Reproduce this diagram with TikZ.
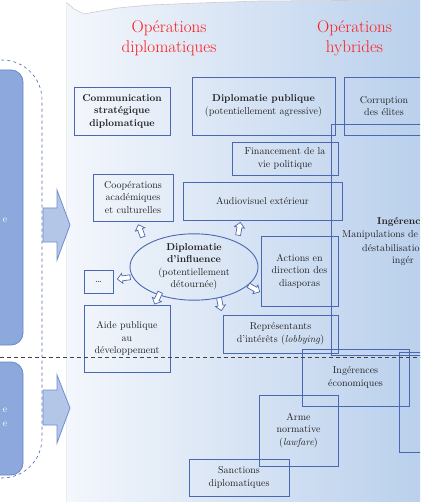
\documentclass[tikz,border=0pt]{standalone}
\usepackage{fontspec}
\usetikzlibrary{shapes.geometric,shapes.arrows}
\definecolor{bxblue}{HTML}{4A68B2}
\definecolor{txt}{HTML}{222222}
\definecolor{ttlred}{HTML}{FF1A1A}
\definecolor{panelL}{HTML}{F4F7FC}
\definecolor{panelR}{HTML}{BAD0EC}
\definecolor{sidefill}{HTML}{8DA8DC}
\definecolor{sideborder}{HTML}{6A88C8}
\definecolor{arrfill}{HTML}{B4C6E8}
\definecolor{arrborder}{HTML}{6F8ECF}
\definecolor{dashgray}{HTML}{444444}
\begin{document}
\begin{tikzpicture}[x=1pt,y=-1pt,
  bx/.style={draw=bxblue, line width=0.9pt, align=center, text=txt,
    font=\fontsize{10}{12.5}\selectfont, inner sep=0pt},
  ttl/.style={text=ttlred, align=center, font=\fontsize{17}{20}\selectfont},
  sarrow/.style={single arrow, draw=bxblue, fill=white, line width=0.7pt,
    minimum height=13pt, minimum width=10pt, single arrow head extend=2pt,
    inner sep=1.6pt},
  sidebox/.style={draw=sideborder, fill=sidefill, line width=0.8pt, rounded corners=12pt},
  bigarrow/.style={draw=arrborder, fill=arrfill, line width=0.8pt},
  cut/.style={text=txt, font=\fontsize{10}{12.5}\selectfont, anchor=west, inner sep=0pt}
]
\useasboundingbox (0,0) rectangle (420,502);
\clip (0,0) rectangle (420,502);
% background
\fill[white] (0,0) rectangle (420,502);
\shade[left color=panelL, right color=panelR] (66,0) rectangle (420,502);
\fill[white] (60,-1) -- (66,2) -- (74,9) -- (84,14) -- (95,12) -- (118,8) -- (150,5) -- (200,3) -- (260,1) -- (420,0) -- (420,-1) -- cycle;
\draw[gray!40, line width=0.6pt] (66,2) -- (74,9) -- (84,14) -- (95,12) -- (118,8) -- (150,5) -- (200,3) -- (260,1) -- (420,0);
\draw[white!85!gray, line width=0.5pt] (66,2) -- (66,502);

% left side
\draw[sidebox] (-20,70) rectangle (23,345);
\draw[sidebox] (-20,362) rectangle (23,475);
\node[text=white, font=\fontsize{10}{12}\selectfont, inner sep=0pt] (ltxt) at (5,220) {e};
\node[text=white, font=\fontsize{10}{12}\selectfont, inner sep=0pt] (ltxt2) at (5,410) {e};
\node[text=white, font=\fontsize{10}{12}\selectfont, inner sep=0pt] (ltxt3) at (5,424) {e};
\draw[bxblue, dashed, line width=0.6pt, rounded corners=40pt] (-40,60) rectangle (42,478);
\draw[bigarrow] (43,208) -- (57,208) -- (57,190) -- (70,225) -- (57,260) -- (57,242) -- (43,242) -- cycle;
\draw[bigarrow] (43,390) -- (57,390) -- (57,375) -- (70,408) -- (57,443) -- (57,425) -- (43,425) -- cycle;

% titles
\node[ttl] (t1) at (169,38) {Opérations\\diplomatiques};
\node[ttl] (t2) at (354.5,38) {Opérations\\hybrides};

% boxes
\node[bx, minimum width=96pt, minimum height=48pt] (comm) at (122,111)
  {\textbf{Communication}\\\textbf{stratégique}\\\textbf{diplomatique}};
\node[bx, minimum width=143pt, minimum height=58pt] (pub) at (263.5,106)
  {\textbf{Diplomatie publique}\\(potentiellement agressive)};
\node[bx, minimum width=80pt, minimum height=58pt] (corr) at (384,106)
  {Corruption\\des élites};
\draw[bxblue, line width=0.9pt] (331,124) rectangle (445,355);
\node[cut] (ing1) at (377,222) {\textbf{Ingérenc}};
\node[cut] (ing2) at (342,235) {Manipulations de};
\node[cut] (ing3) at (362,248) {déstabilisatio};
\node[cut] (ing4) at (392,261) {ingér};
\node[bx, minimum width=106pt, minimum height=33pt] (fin) at (285,158.5)
  {Financement de la\\vie politique};
\node[bx, minimum width=159pt, minimum height=38pt] (audio) at (262.5,201)
  {Audiovisuel extérieur};
\node[bx, minimum width=80pt, minimum height=47pt] (coop) at (133,197.5)
  {Coopérations\\académiques\\et culturelles};
\node[bx, ellipse, minimum width=128pt, minimum height=64pt] (infl) at (194,267)
  {\textbf{Diplomatie}\\\textbf{d’influence}\\(potentiellement\\détournée)};
\node[bx, minimum width=77pt, minimum height=70pt] (act) at (299.5,271)
  {Actions en\\direction des\\diasporas};
\node[bx, minimum width=29pt, minimum height=23pt] (dots) at (98.5,281.5) {…};
\node[bx, minimum width=86pt, minimum height=67pt] (aide) at (127,338.5)
  {Aide publique\\au\\développement};
\node[bx, minimum width=115pt, minimum height=38pt] (rep) at (280.5,334)
  {Représentants\\d’intérêts (\textit{lobbying})};
\node[bx, minimum width=107pt, minimum height=57pt] (eco) at (355.5,377.5)
  {Ingérences\\économiques};
\draw[bxblue, line width=0.9pt] (399,352) rectangle (445,452);
\node[bx, minimum width=79pt, minimum height=71pt] (arme) at (298.5,430.5)
  {Arme\\normative\\(\textit{lawfare})};
\node[bx, minimum width=100pt, minimum height=37pt] (sanct) at (239,477.5)
  {Sanctions\\diplomatiques};

% small arrows around the ellipse
\node[sarrow, rotate=110] (a1) at (141,232) {};
\node[sarrow, rotate=80] (a2) at (239,230) {};
\node[sarrow, rotate=188] (a3) at (125,278) {};
\node[sarrow, rotate=245] (a4) at (158,297) {};
\node[sarrow, rotate=-30] (a5) at (253,288) {};
\node[sarrow, rotate=280] (a6) at (220,303) {};

% horizontal dashed separator
\draw[dashgray, dashed, line width=0.7pt, dash pattern=on 4pt off 3pt] (0,357) -- (420,357);
\end{tikzpicture}
\end{document}
